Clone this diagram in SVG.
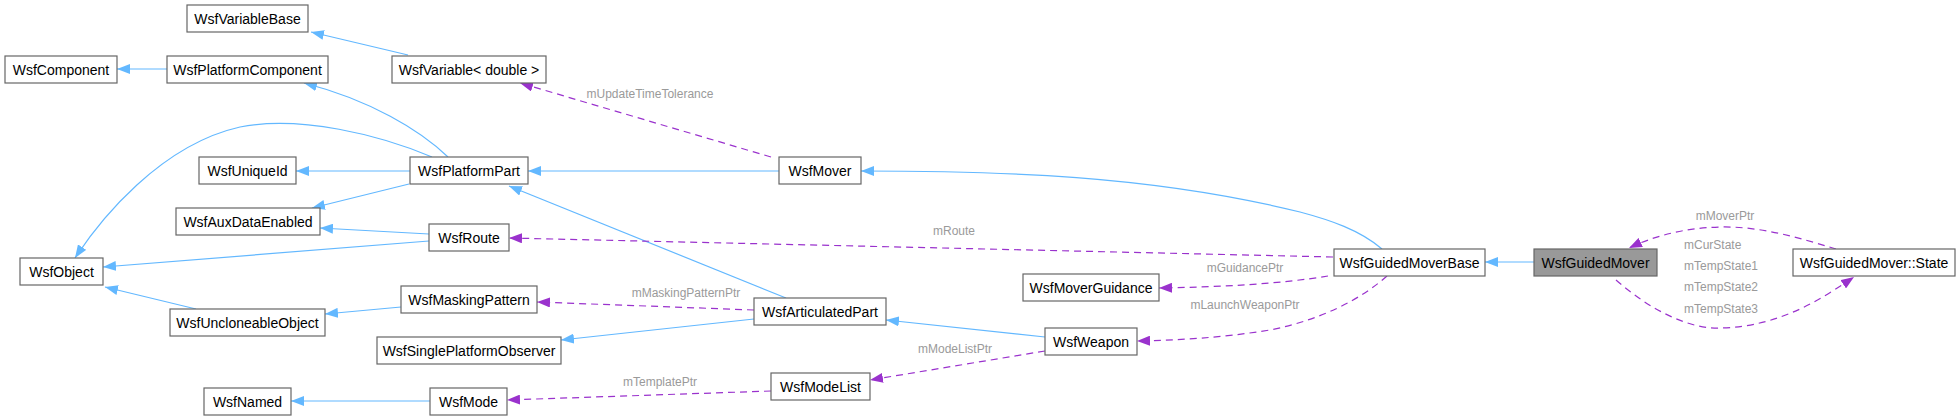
<svg xmlns="http://www.w3.org/2000/svg" width="1960" height="420" viewBox="0 0 1960 420">
<style>
.n rect{fill:#fff;stroke:#666;stroke-width:1.2}
.n text{font-family:"Liberation Sans",Arial,sans-serif;font-size:14px;fill:#000;text-anchor:middle}
.b{fill:none;stroke:#63b8ff;stroke-width:1.2;marker-end:url(#ab)}
.d{fill:none;stroke:#9a32cd;stroke-width:1.2;stroke-dasharray:7,5;marker-end:url(#ap)}
.l{font-family:"Liberation Sans",Arial,sans-serif;font-size:12px;fill:#9a9a9a;text-anchor:middle}
</style>
<defs>
<marker id="ab" markerWidth="14" markerHeight="10" refX="13" refY="5" orient="auto" markerUnits="userSpaceOnUse"><path d="M0,0 L13,5 L0,10 z" fill="#63b8ff"/></marker>
<marker id="ap" markerWidth="14" markerHeight="10" refX="13" refY="5" orient="auto" markerUnits="userSpaceOnUse"><path d="M0,0 L13,5 L0,10 z" fill="#9a32cd"/></marker>
</defs>
<rect width="1960" height="420" fill="#fff"/>
<g id="edges">
<path class="b" d="M408,55 L311,32"/>
<path class="b" d="M167,69 L117,69"/>
<path class="b" d="M448,157 C420,130 370,100 304,83"/>
<path class="b" d="M432,157 C380,135 300,115 240,127 C160,145 100,220 75,258"/>
<path class="b" d="M410,171 L296,171"/>
<path class="b" d="M409,184 L312,208"/>
<path class="b" d="M429,234 L320,228"/>
<path class="b" d="M429,241 L103,267"/>
<path class="b" d="M196,309 L105,287"/>
<path class="b" d="M401,307 L325,314"/>
<path class="b" d="M786,298 L509,186"/>
<path class="b" d="M754,319 L561,340"/>
<path class="b" d="M1045,337 L886,320"/>
<path class="b" d="M779,171 L528,171"/>
<path class="b" d="M1382,249 C1360,230 1330,220 1300,212 C1150,175 1000,171 861,171"/>
<path class="b" d="M1534,262 L1485,262"/>
<path class="b" d="M430,401 L291,401"/>
<path class="d" d="M771,157 L520,83"/>
<path class="d" d="M1333,257 L509,238"/>
<path class="d" d="M1328,276 C1280,284 1220,287 1159,288"/>
<path class="d" d="M1387,276 C1360,300 1320,320 1270,330 C1220,338 1180,340 1137,341"/>
<path class="d" d="M754,310 L537,302"/>
<path class="d" d="M1045,351 L870,380"/>
<path class="d" d="M771,391 L507,400"/>
<path class="d" d="M1836,249 C1800,238 1760,226 1720,227 C1680,228 1650,238 1629,248"/>
<path class="d" d="M1616,280 C1650,310 1690,330 1722,328 C1780,326 1820,300 1854,277"/>
<text class="l" x="650" y="98">mUpdateTimeTolerance</text>
<text class="l" x="954" y="235">mRoute</text>
<text class="l" x="1245" y="272">mGuidancePtr</text>
<text class="l" x="1245" y="309">mLaunchWeaponPtr</text>
<text class="l" x="955" y="353">mModeListPtr</text>
<text class="l" x="686" y="297">mMaskingPatternPtr</text>
<text class="l" x="660" y="386">mTemplatePtr</text>
<text class="l" x="1725" y="220">mMoverPtr</text>
<text class="l" x="1684" y="249" text-anchor="start" style="text-anchor:start">mCurState</text>
<text class="l" x="1684" y="270" style="text-anchor:start">mTempState1</text>
<text class="l" x="1684" y="291" style="text-anchor:start">mTempState2</text>
<text class="l" x="1684" y="313" style="text-anchor:start">mTempState3</text>
</g>
<g id="WsfVariableBase" class="n"><rect x="187" y="5" width="121" height="27"/><text x="247.5" y="23.5">WsfVariableBase</text></g>
<g id="WsfComponent" class="n"><rect x="5" y="56" width="112" height="27"/><text x="61" y="74.5">WsfComponent</text></g>
<g id="WsfPlatformComponent" class="n"><rect x="167" y="56" width="161" height="27"/><text x="247.5" y="74.5">WsfPlatformComponent</text></g>
<g id="WsfVariableDouble" class="n"><rect x="392" y="56" width="154" height="27"/><text x="469" y="74.5">WsfVariable&lt; double &gt;</text></g>
<g id="WsfUniqueId" class="n"><rect x="199" y="157" width="97" height="27"/><text x="247.5" y="175.5">WsfUniqueId</text></g>
<g id="WsfPlatformPart" class="n"><rect x="410" y="157" width="118" height="27"/><text x="469" y="175.5">WsfPlatformPart</text></g>
<g id="WsfAuxDataEnabled" class="n"><rect x="176" y="208" width="144" height="27"/><text x="248" y="226.5">WsfAuxDataEnabled</text></g>
<g id="WsfRoute" class="n"><rect x="429" y="224" width="80" height="27"/><text x="469" y="242.5">WsfRoute</text></g>
<g id="WsfObject" class="n"><rect x="20" y="258" width="83" height="27"/><text x="61.5" y="276.5">WsfObject</text></g>
<g id="WsfMaskingPattern" class="n"><rect x="401" y="286" width="136" height="27"/><text x="469" y="304.5">WsfMaskingPattern</text></g>
<g id="WsfUncloneableObject" class="n"><rect x="170" y="309" width="155" height="27"/><text x="247.5" y="327.5">WsfUncloneableObject</text></g>
<g id="WsfSinglePlatformObserver" class="n"><rect x="377" y="337" width="184" height="27"/><text x="469" y="355.5">WsfSinglePlatformObserver</text></g>
<g id="WsfNamed" class="n"><rect x="204" y="388" width="87" height="27"/><text x="247.5" y="406.5">WsfNamed</text></g>
<g id="WsfMode" class="n"><rect x="430" y="388" width="77" height="27"/><text x="468.5" y="406.5">WsfMode</text></g>
<g id="WsfMover" class="n"><rect x="779" y="157" width="82" height="27"/><text x="820" y="175.5">WsfMover</text></g>
<g id="WsfArticulatedPart" class="n"><rect x="754" y="298" width="132" height="27"/><text x="820" y="316.5">WsfArticulatedPart</text></g>
<g id="WsfModeList" class="n"><rect x="771" y="373" width="99" height="27"/><text x="820.5" y="391.5">WsfModeList</text></g>
<g id="WsfMoverGuidance" class="n"><rect x="1023" y="274" width="136" height="27"/><text x="1091" y="292.5">WsfMoverGuidance</text></g>
<g id="WsfWeapon" class="n"><rect x="1045" y="328" width="92" height="27"/><text x="1091" y="346.5">WsfWeapon</text></g>
<g id="WsfGuidedMoverBase" class="n"><rect x="1334" y="249" width="151" height="27"/><text x="1409.5" y="267.5">WsfGuidedMoverBase</text></g>
<g id="WsfGuidedMover" class="n"><rect x="1534" y="249" width="123" height="27" style="fill:#999"/><text x="1595.5" y="267.5">WsfGuidedMover</text></g>
<g id="WsfGuidedMoverState" class="n"><rect x="1793" y="249" width="162" height="27"/><text x="1874" y="267.5">WsfGuidedMover::State</text></g>
</svg>
